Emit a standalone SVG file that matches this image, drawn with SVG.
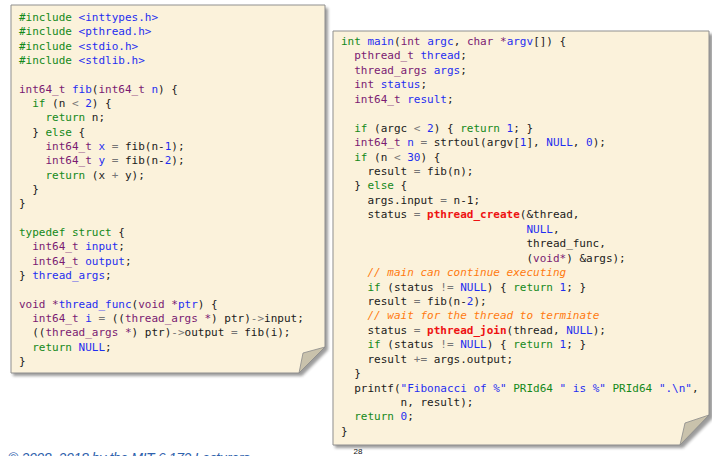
<svg xmlns="http://www.w3.org/2000/svg" width="712" height="456" viewBox="0 0 712 456">
<defs>
<filter id="sh" x="-5%" y="-5%" width="110%" height="110%"><feGaussianBlur stdDeviation="1.6"/></filter>
<style>
.code{font-family:"DejaVu Sans Mono","Liberation Mono",monospace;font-size:11px;fill:#1a1a1a}
.k{fill:#13891a}
.t{fill:#7a1a72}
.b{fill:#1f2ef0}
.o{fill:#777}
.r{fill:#ee1111;font-weight:bold}
.c{fill:#ff7a10;font-style:italic}
.paper{fill:#fbf2db;stroke:#8f8f8f;stroke-width:1}
.shadow{fill:#7a7a7a;opacity:0.75}
.fold{fill:#c9c2ac;stroke:#8a8a8a;stroke-width:0.8}
</style>
</defs>
<rect width="712" height="456" fill="#ffffff"/>

<g id="left-panel">
<path class="shadow" filter="url(#sh)" d="M13,8 H328 V350 L302,376 H13 Z"/>
<path class="paper" d="M11,5 H325 V347 L299,373 H11 Z"/>
<polygon class="fold" points="299,373 303,353 325,347"/>
<g class="code">
<text x="19" y="21"><tspan class="k">#include</tspan> <tspan class="b">&lt;inttypes.h&gt;</tspan></text>
<text x="19" y="35.3"><tspan class="k">#include</tspan> <tspan class="b">&lt;pthread.h&gt;</tspan></text>
<text x="19" y="49.7"><tspan class="k">#include</tspan> <tspan class="b">&lt;stdio.h&gt;</tspan></text>
<text x="19" y="64"><tspan class="k">#include</tspan> <tspan class="b">&lt;stdlib.h&gt;</tspan></text>
<text x="19" y="92.7"><tspan class="t">int64_t</tspan> <tspan class="b">fib</tspan>(<tspan class="t">int64_t</tspan> <tspan class="b">n</tspan>) {</text>
<text x="32.2" y="107"><tspan class="k">if</tspan> (n <tspan class="o">&lt;</tspan> <tspan class="b">2</tspan>) {</text>
<text x="45.5" y="121.3"><tspan class="k">return</tspan> n;</text>
<text x="32.2" y="135.6">} <tspan class="k">else</tspan> {</text>
<text x="45.5" y="150"><tspan class="t">int64_t</tspan> <tspan class="b">x</tspan> <tspan class="o">=</tspan> fib(n-<tspan class="b">1</tspan>);</text>
<text x="45.5" y="164.3"><tspan class="t">int64_t</tspan> <tspan class="b">y</tspan> <tspan class="o">=</tspan> fib(n-<tspan class="b">2</tspan>);</text>
<text x="45.5" y="178.6"><tspan class="k">return</tspan> (x <tspan class="o">+</tspan> y);</text>
<text x="32.2" y="193">}</text>
<text x="19" y="207.3">}</text>
<text x="19" y="236"><tspan class="k">typedef struct</tspan> {</text>
<text x="32.2" y="250.3"><tspan class="t">int64_t</tspan> <tspan class="b">input</tspan>;</text>
<text x="32.2" y="264.6"><tspan class="t">int64_t</tspan> <tspan class="b">output</tspan>;</text>
<text x="19" y="279">} <tspan class="b">thread_args</tspan>;</text>
<text x="19" y="307.6"><tspan class="t">void *</tspan><tspan class="b">thread_func</tspan>(<tspan class="t">void *</tspan><tspan class="b">ptr</tspan>) {</text>
<text x="32.2" y="322"><tspan class="t">int64_t</tspan> <tspan class="b">i</tspan> <tspan class="o">=</tspan> ((<tspan class="t">thread_args *</tspan>) ptr)<tspan class="o">-&gt;</tspan>input;</text>
<text x="32.2" y="336.3">((<tspan class="t">thread_args *</tspan>) ptr)<tspan class="o">-&gt;</tspan>output <tspan class="o">=</tspan> fib(i);</text>
<text x="32.2" y="350.6"><tspan class="k">return</tspan> <tspan class="b">NULL</tspan>;</text>
<text x="19" y="365">}</text>
</g>
</g>

<g id="right-panel">
<path class="shadow" filter="url(#sh)" d="M335,34 H713 V418 L683,448 H335 Z"/>
<path class="paper" d="M333,31 H709 V415 L680,445 H333 Z"/>
<polygon class="fold" points="680,445 685,423 709,415"/>
<g class="code">
<text x="341" y="45"><tspan class="k">int</tspan> <tspan class="b">main</tspan>(<tspan class="t">int</tspan> <tspan class="b">argc</tspan>, <tspan class="t">char *</tspan><tspan class="b">argv</tspan>[]) {</text>
<text x="354.2" y="59.4"><tspan class="t">pthread_t</tspan> <tspan class="b">thread</tspan>;</text>
<text x="354.2" y="73.9"><tspan class="t">thread_args</tspan> <tspan class="b">args</tspan>;</text>
<text x="354.2" y="88.3"><tspan class="t">int</tspan> <tspan class="b">status</tspan>;</text>
<text x="354.2" y="102.8"><tspan class="t">int64_t</tspan> <tspan class="b">result</tspan>;</text>
<text x="354.2" y="131.6"><tspan class="k">if</tspan> (argc <tspan class="o">&lt;</tspan> <tspan class="b">2</tspan>) { <tspan class="k">return</tspan> <tspan class="b">1</tspan>; }</text>
<text x="354.2" y="146.1"><tspan class="t">int64_t</tspan> <tspan class="b">n</tspan> <tspan class="o">=</tspan> strtoul(argv[<tspan class="b">1</tspan>], <tspan class="b">NULL</tspan>, <tspan class="b">0</tspan>);</text>
<text x="354.2" y="160.5"><tspan class="k">if</tspan> (n <tspan class="o">&lt;</tspan> <tspan class="b">30</tspan>) {</text>
<text x="367.5" y="175">result <tspan class="o">=</tspan> fib(n);</text>
<text x="354.2" y="189.4">} <tspan class="k">else</tspan> {</text>
<text x="367.5" y="203.8">args.input <tspan class="o">=</tspan> n-1;</text>
<text x="367.5" y="218.3">status <tspan class="o">=</tspan> <tspan class="r">pthread_create</tspan>(&amp;thread,</text>
<text x="526.4" y="232.7"><tspan class="b">NULL</tspan>,</text>
<text x="526.4" y="247.2">thread_func,</text>
<text x="526.4" y="261.6">(<tspan class="t">void*</tspan>) &amp;args);</text>
<text x="367.5" y="276"><tspan class="c">// main can continue executing</tspan></text>
<text x="367.5" y="290.5"><tspan class="k">if</tspan> (status <tspan class="o">!=</tspan> <tspan class="b">NULL</tspan>) { <tspan class="k">return</tspan> <tspan class="b">1</tspan>; }</text>
<text x="367.5" y="304.9">result <tspan class="o">=</tspan> fib(n-<tspan class="b">2</tspan>);</text>
<text x="367.5" y="319.4"><tspan class="c">// wait for the thread to terminate</tspan></text>
<text x="367.5" y="333.8">status <tspan class="o">=</tspan> <tspan class="r">pthread_join</tspan>(thread, <tspan class="b">NULL</tspan>);</text>
<text x="367.5" y="348.2"><tspan class="k">if</tspan> (status <tspan class="o">!=</tspan> <tspan class="b">NULL</tspan>) { <tspan class="k">return</tspan> <tspan class="b">1</tspan>; }</text>
<text x="367.5" y="362.7">result <tspan class="o">+=</tspan> args.output;</text>
<text x="354.2" y="377.1">}</text>
<text x="354.2" y="391.6">printf(<tspan class="b">"Fibonacci of %"</tspan> <tspan class="k">PRId64</tspan> <tspan class="b">" is %"</tspan> <tspan class="k">PRId64</tspan> <tspan class="b">".\n"</tspan>,</text>
<text x="400.6" y="406">n, result);</text>
<text x="354.2" y="420.4"><tspan class="k">return</tspan> <tspan class="b">0</tspan>;</text>
<text x="341" y="434.9">}</text>
</g>
</g>

<text x="8" y="463" font-family="Liberation Sans, sans-serif" font-size="14" font-style="italic" fill="#2f62ad" textLength="242">© 2008–2018 by the MIT 6.172 Lecturers</text>
<text x="358" y="454" font-family="Liberation Sans, sans-serif" font-size="8" text-anchor="middle" fill="#111">28</text>
</svg>
